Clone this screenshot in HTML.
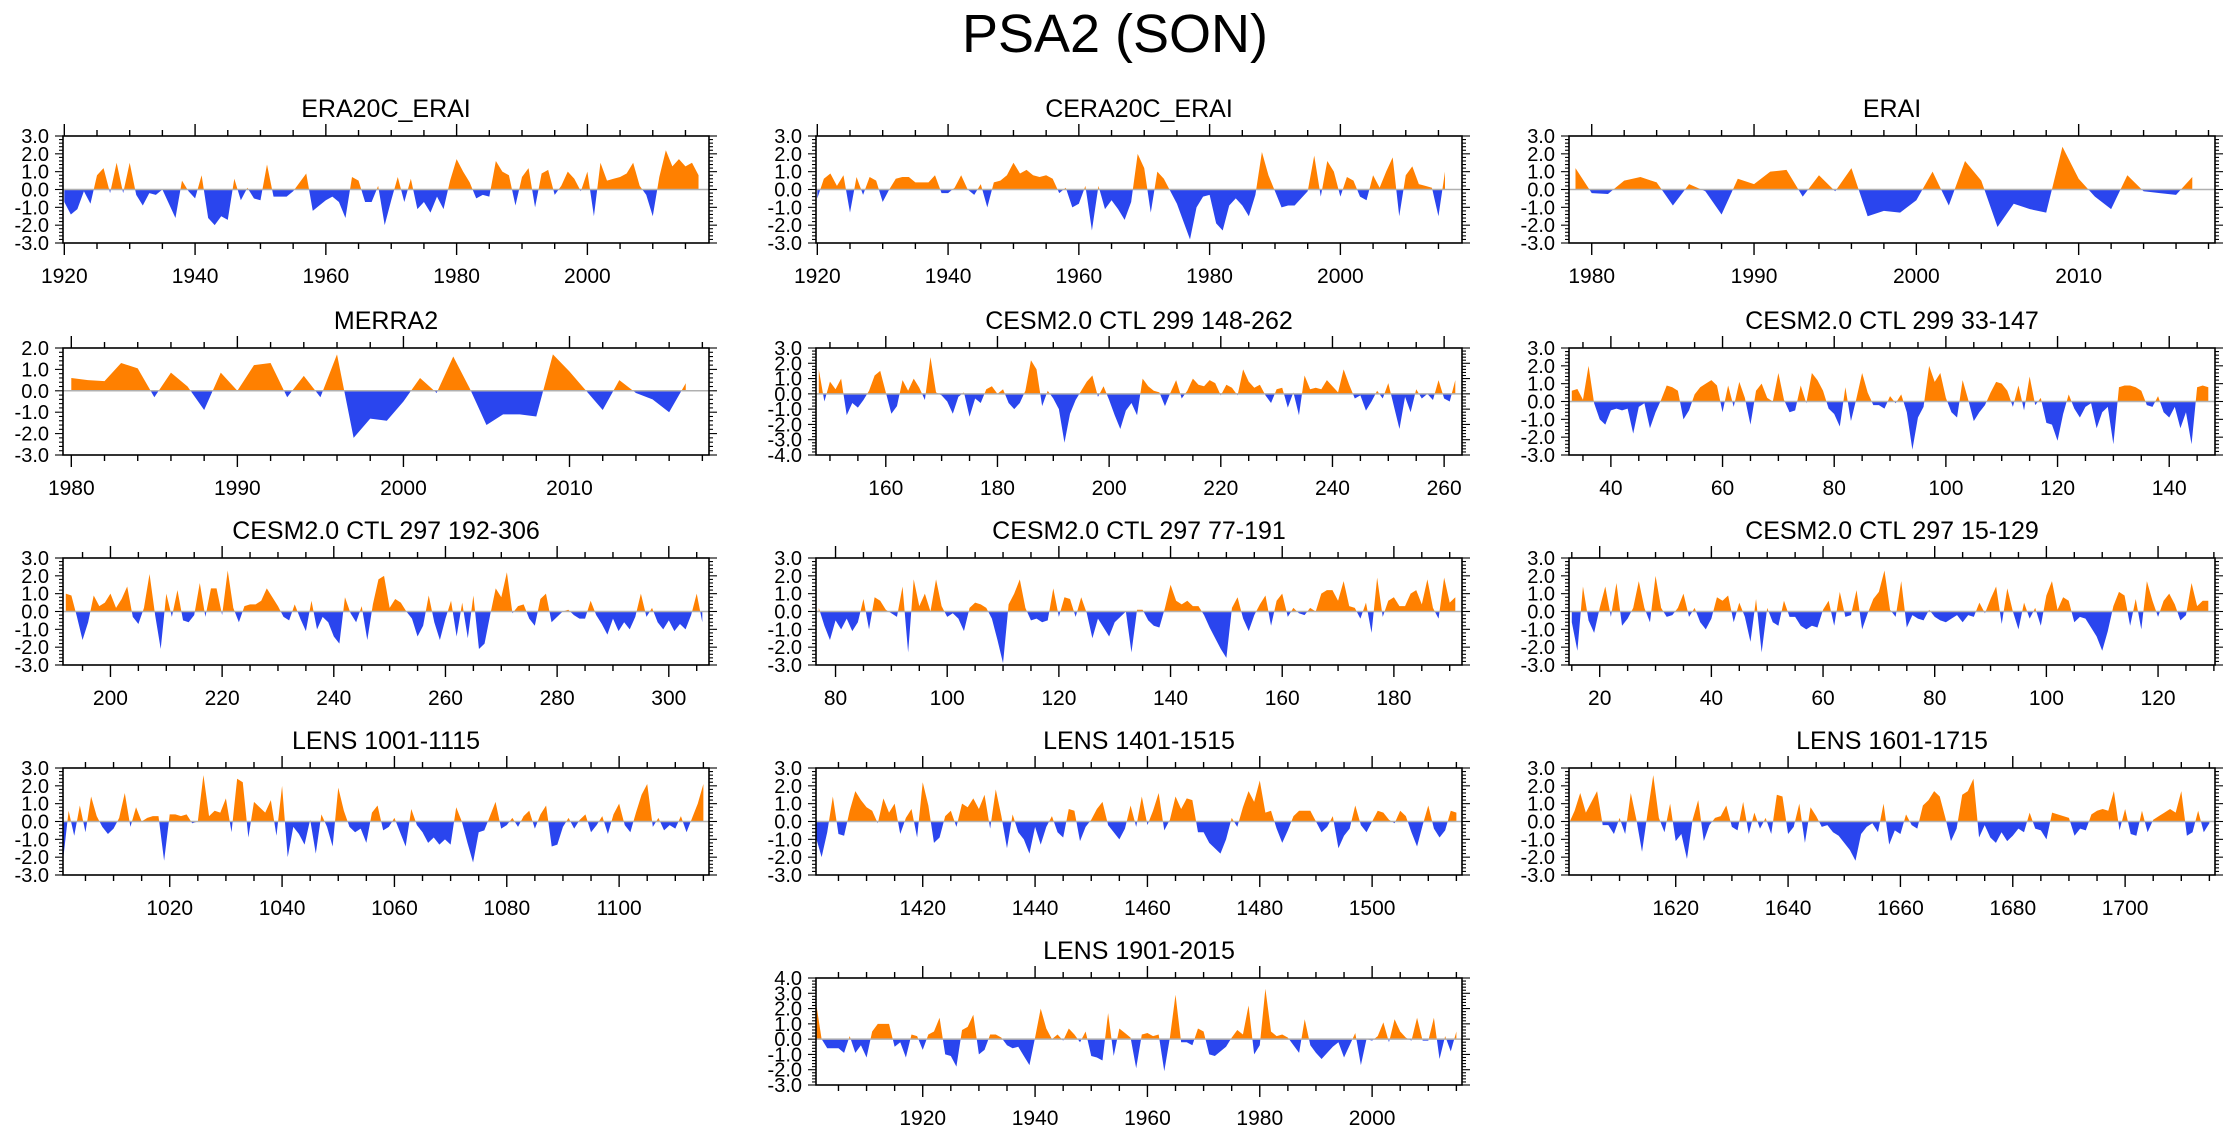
<!DOCTYPE html>
<html><head><meta charset="utf-8"><style>
html,body{margin:0;padding:0;background:#fff;}
svg text{font-family:"Liberation Sans",sans-serif;fill:#000;}
</style></head><body>
<svg id="fig" width="2230" height="1133" viewBox="0 0 2230 1133" xmlns="http://www.w3.org/2000/svg">
<text x="1115" y="52" font-size="54" text-anchor="middle">PSA2 (SON)</text>
</svg>
<script>
const era20cVals=[-0.7,-1.4,-1.1,-0.1,-0.8,0.8,1.2,-0.2,1.5,-0.2,1.5,-0.3,-0.9,-0.2,-0.3,0.0,-0.8,-1.6,0.5,-0.1,-0.5,0.8,-1.6,-2.0,-1.5,-1.7,0.6,-0.6,0.1,-0.5,-0.6,1.4,-0.4,-0.4,-0.4,-0.1,0.4,0.9,-1.2,-0.9,-0.6,-0.4,-0.7,-1.6,0.7,0.5,-0.7,-0.7,0.2,-2.0,-0.6,0.7,-0.7,0.6,-1.1,-0.7,-1.3,-0.4,-1.1,0.5,1.7,1.0,0.4,-0.5,-0.3,-0.4,1.6,1.0,0.8,-0.9,0.7,1.2,-1.0,0.9,1.1,-0.3,0.2,1.0,0.6,-0.1,1.0,-1.5,1.5,0.5,0.6,0.7,0.9,1.5,0.2,-0.3,-1.5,0.7,2.2,1.3,1.7,1.3,1.5,0.8];
const cera20cVals=[-0.5,0.6,0.9,0.2,0.8,-1.3,0.7,-0.3,0.7,0.5,-0.7,0.0,0.6,0.7,0.7,0.4,0.4,0.4,0.8,-0.2,-0.2,0.1,0.8,0.0,-0.3,0.3,-1.0,0.4,0.5,0.8,1.5,0.9,1.1,0.8,0.7,0.8,0.6,-0.2,0.1,-1.0,-0.8,0.2,-2.3,0.2,-1.1,-0.6,-1.1,-1.7,-0.7,2.0,1.2,-1.3,1.0,0.6,-0.1,-0.8,-1.8,-2.8,-1.0,-0.4,-0.3,-1.9,-2.3,-0.9,-0.5,-0.9,-1.5,-0.3,2.1,0.8,-0.1,-1.0,-0.9,-0.9,-0.5,-0.1,1.9,-0.4,1.6,1.0,-0.4,0.7,0.5,-0.4,-0.6,0.8,0.1,1.0,1.8,-1.5,0.8,1.3,0.3,0.2,0.1,-1.5,1.0];
const eraiVals=[1.2,-0.2,-0.25,0.5,0.7,0.4,-0.9,0.3,-0.1,-1.4,0.6,0.3,1.0,1.1,-0.4,0.8,-0.1,1.2,-1.5,-1.2,-1.3,-0.6,1.0,-0.9,1.6,0.5,-2.1,-0.8,-1.1,-1.3,2.4,0.6,-0.4,-1.1,0.8,-0.1,-0.2,-0.3,0.7];
const merra2Vals=[0.6,0.5,0.45,1.3,1.05,-0.3,0.85,0.2,-0.9,0.85,0.0,1.2,1.3,-0.3,0.7,-0.3,1.7,-2.2,-1.3,-1.4,-0.5,0.6,-0.1,1.6,0.1,-1.6,-1.1,-1.1,-1.2,1.7,0.9,0.0,-0.9,0.5,-0.1,-0.4,-1.0,0.35];
const ctl299aVals=[1.6,-0.5,0.8,0.3,1.0,-1.4,-0.6,-0.9,-0.4,0.2,1.2,1.5,0.1,-1.3,-0.8,0.9,0.2,1.0,0.4,-0.4,2.4,0.1,-0.1,-0.5,-1.3,-0.2,0.1,-1.5,-0.3,-0.6,0.3,0.5,0.0,0.3,-0.6,-1.0,-0.6,0.2,2.2,1.6,-0.8,0.2,-0.3,-1.0,-3.2,-1.3,-0.4,0.2,0.8,1.2,-0.2,0.5,-0.4,-1.4,-2.3,-1.1,-0.6,-1.4,1.0,0.5,0.2,0.1,-0.8,0.1,0.9,-0.3,0.2,1.0,0.6,0.5,0.9,0.7,-0.1,0.6,0.4,-0.1,1.6,0.8,0.4,0.6,-0.1,-0.6,0.3,0.4,-0.9,0.1,-1.4,1.2,0.3,0.4,0.3,0.9,0.5,0.1,1.6,0.6,-0.3,-0.1,-1.1,-0.5,0.2,-0.3,0.7,-0.8,-2.3,-0.2,-1.2,0.3,-0.3,0.0,-0.4,0.9,-0.3,-0.5,0.9];
const ctl299bVals=[0.6,0.7,0.1,2.0,-0.1,-1.0,-1.3,-0.5,-0.4,-0.5,-0.4,-1.8,-0.3,-0.1,-1.5,-0.6,0.1,0.9,0.8,0.6,-1.0,-0.5,0.4,0.8,1.0,1.2,0.9,-0.6,0.9,-0.3,1.1,0.2,-1.3,0.6,1.0,0.2,0.0,1.6,0.1,-0.6,-0.5,0.9,-0.1,1.6,1.2,0.6,-0.4,-0.7,-1.4,0.8,-1.1,0.2,1.6,0.5,-0.2,-0.2,-0.4,0.3,-0.1,0.4,-0.6,-2.7,-0.9,-0.3,2.0,1.1,1.6,0.2,-0.6,-0.9,1.2,0.1,-1.1,-0.6,-0.2,0.5,1.1,1.0,0.6,-0.3,0.9,-0.5,1.4,-0.2,0.2,-1.2,-1.3,-2.2,-0.7,0.4,-0.4,-0.9,-0.3,-0.1,-1.5,-0.6,-0.3,-2.4,0.8,0.9,0.9,0.8,0.6,-0.2,-0.3,0.3,-0.6,-0.9,-0.3,-1.5,-0.6,-2.4,0.8,0.9,0.8];
const ctl297aVals=[1.0,0.9,-0.3,-1.6,-0.6,0.9,0.3,0.5,1.0,0.2,0.7,1.4,-0.3,-0.7,0.2,2.1,-0.2,-2.1,1.0,-0.3,1.2,-0.5,-0.6,-0.2,1.6,-0.3,1.3,1.3,-0.2,2.3,0.2,-0.6,0.3,0.4,0.4,0.6,1.3,0.8,0.3,-0.3,-0.5,0.4,-0.4,-1.1,0.6,-1.0,-0.3,-0.6,-1.4,-1.8,0.8,-0.1,-0.6,0.3,-1.6,0.4,1.8,2.0,0.2,0.7,0.5,0.0,-0.4,-1.4,-0.8,0.9,-0.6,-1.6,-0.4,0.6,-1.4,0.5,-1.5,0.9,-2.1,-1.8,-0.2,1.3,0.8,2.2,-0.1,0.3,0.4,-0.4,-0.8,0.7,1.0,-0.6,-0.3,0.0,0.1,-0.2,-0.4,-0.4,0.6,-0.2,-0.7,-1.3,-0.4,-1.1,-0.6,-1.0,-0.3,1.0,-0.3,0.2,-0.6,-1.0,-0.5,-1.1,-0.7,-1.0,-0.2,1.0,-0.6];
const ctl297bVals=[0.2,-0.8,-1.6,-0.5,-1.0,-0.4,-1.1,-0.6,0.7,-1.0,0.8,0.6,0.1,-0.1,-0.3,1.4,-2.3,1.8,0.3,1.0,0.0,1.8,0.3,-0.3,-0.1,-0.4,-1.1,0.2,0.5,0.4,0.2,-0.4,-1.6,-2.9,0.4,1.0,1.8,0.2,-0.5,-0.4,-0.6,-0.5,1.3,-0.3,0.8,0.7,-0.3,0.8,-0.1,-1.5,-0.4,-0.9,-1.4,-0.6,-0.3,0.0,-2.3,0.1,0.1,-0.5,-0.8,-0.9,0.2,1.5,0.6,0.4,0.6,0.3,0.3,-0.2,-0.9,-1.5,-2.1,-2.6,0.2,0.8,-0.4,-1.1,-0.2,0.4,0.9,-0.8,0.6,1.0,-0.3,0.2,-0.1,-0.2,0.2,0.0,1.0,1.2,1.2,0.6,1.7,0.3,0.2,-0.4,0.5,-1.2,1.9,-0.3,0.6,0.8,0.3,0.3,1.0,1.2,0.4,1.8,0.2,-0.4,1.9,0.5,0.8];
const ctl297cVals=[-0.6,-2.2,1.4,-0.5,-1.2,0.2,1.4,-0.3,1.6,-0.8,-0.4,0.2,1.7,0.2,-0.6,2.0,0.2,-0.3,-0.2,0.2,1.0,-0.3,0.2,-0.6,-1.0,-0.4,0.8,0.6,0.9,-0.6,0.5,-0.3,-1.7,0.7,-2.3,0.2,-0.6,-0.8,0.6,-0.3,-0.3,-0.8,-1.0,-0.8,-0.9,0.1,0.6,-0.8,1.1,-0.3,-0.2,1.2,-1.0,-0.1,0.7,1.1,2.3,0.1,-0.3,1.7,-0.9,-0.2,-0.4,-0.5,0.1,-0.3,-0.5,-0.6,-0.4,-0.2,-0.6,-0.2,-0.3,0.5,-0.1,0.7,1.4,-0.7,1.3,0.0,-1.0,0.5,-0.4,0.2,-0.8,0.9,1.7,0.1,0.8,0.6,-0.6,-0.3,-0.4,-0.9,-1.4,-2.2,-1.1,0.3,1.1,0.9,-0.8,0.7,-1.0,1.7,0.6,-0.3,0.6,1.0,0.4,-0.5,-0.2,1.6,0.3,0.6,0.6];
const lens1001Vals=[-2.2,0.6,-0.8,0.9,-0.6,1.4,0.3,-0.3,-0.7,-0.4,0.2,1.6,-0.3,0.8,0.0,0.2,0.3,0.3,-2.2,0.4,0.4,0.3,0.4,-0.1,0.0,2.6,0.3,0.6,0.5,1.3,-0.6,2.4,2.2,-0.9,1.1,0.8,0.5,1.2,-0.8,2.0,-2.0,-0.3,-0.7,-1.3,0.1,-1.8,0.4,-0.3,-1.4,1.9,0.6,-0.3,-0.6,-0.4,-1.2,0.5,0.9,-0.5,-0.3,0.2,-0.6,-1.4,0.7,-0.2,-0.6,-1.2,-0.9,-1.3,-1.0,-1.3,0.8,0.0,-1.2,-2.3,-0.6,-0.5,0.3,1.1,-0.4,-0.2,0.2,-0.3,0.3,0.6,-0.4,0.4,0.9,-1.4,-1.3,-0.3,0.2,-0.4,0.1,0.4,-0.6,-0.2,0.3,-0.7,0.4,1.0,-0.2,-0.6,0.5,1.5,2.1,-0.3,0.2,-0.5,-0.2,-0.4,0.3,-0.6,0.2,1.0,2.1];
const lens1401Vals=[-0.9,-2.0,-0.6,1.4,-0.7,-0.8,0.6,1.7,1.2,0.8,0.6,-0.1,1.3,0.5,1.0,-0.7,0.2,0.7,-0.9,2.2,0.9,-1.2,-0.9,0.3,0.6,-0.3,1.0,0.8,1.3,0.7,1.5,-0.4,1.8,0.3,-1.5,0.4,-0.6,-1.0,-1.8,-0.3,-1.3,-0.3,0.3,-0.6,-0.9,0.7,0.6,-1.1,-0.3,0.1,0.7,1.1,-0.2,-0.6,-1.0,-0.4,0.9,-0.3,1.4,-0.2,0.6,1.6,-0.5,0.1,1.4,0.7,1.3,1.2,-0.6,-0.6,-1.2,-1.5,-1.8,-1.0,0.2,-0.3,0.8,1.7,1.1,2.3,0.5,0.6,-0.4,-1.2,-0.5,0.3,0.6,0.6,0.6,0.0,-0.6,-0.3,0.3,-1.5,-0.8,-0.4,0.9,-0.2,-0.6,0.0,0.6,0.5,0.1,-0.1,0.6,0.3,-0.6,-1.4,-0.2,0.9,-0.4,-0.9,-0.5,0.6,0.5];
const lens1601Vals=[-0.1,0.6,1.6,0.5,1.1,1.7,-0.2,-0.2,-0.7,0.2,-0.7,1.6,0.1,-1.7,0.5,2.6,0.2,-0.6,1.0,-1.1,-0.7,-2.1,0.1,1.2,-1.1,-0.2,0.2,0.3,0.9,-0.3,-0.5,1.1,-0.7,0.5,-0.4,0.2,-0.7,1.5,1.4,-0.7,-0.3,1.0,-1.2,0.8,0.3,-0.3,-0.2,-0.6,-0.8,-1.2,-1.6,-2.2,-0.7,-0.3,-0.1,-0.6,1.0,-1.3,-0.5,-0.7,0.4,-0.2,-0.4,0.9,1.2,1.7,1.4,0.2,-1.1,-0.4,1.5,1.7,2.4,-0.9,-0.2,-0.9,-1.2,-0.6,-1.1,-0.8,-0.4,-0.6,0.5,-0.4,-0.5,-1.0,0.5,0.4,0.3,0.2,-0.8,-0.4,-0.5,0.4,0.6,0.7,0.6,1.7,-0.5,0.7,-0.7,-0.8,0.6,-0.6,0.1,0.3,0.5,0.7,0.5,1.7,-0.8,-0.6,0.6,-0.6,-0.1];
const lens1901Vals=[2.4,0.0,-0.6,-0.6,-0.6,-0.9,0.2,-0.9,-0.4,-1.2,0.5,1.0,1.0,1.0,-0.5,-0.2,-1.2,0.3,0.2,-0.7,0.3,0.5,1.4,-1.0,-1.1,-1.8,0.6,0.8,1.6,-1.0,-0.7,0.3,0.3,0.1,-0.4,-0.6,-0.5,-1.1,-1.7,0.1,2.0,0.7,0.0,0.3,-0.1,0.7,0.3,-0.2,0.5,-1.1,-1.2,-1.4,1.7,-1.1,0.7,0.4,0.1,-1.9,0.3,0.4,0.2,0.3,-2.1,0.1,2.9,-0.2,-0.2,-0.4,0.7,0.5,-1.0,-1.1,-0.8,-0.5,0.1,0.6,0.3,2.2,-1.0,-0.4,3.3,0.5,0.2,0.3,0.1,-0.4,-0.9,1.3,-0.4,-0.9,-1.3,-0.9,-0.5,-0.2,-1.2,-0.4,0.4,-1.7,0.0,-0.1,0.2,1.1,-0.2,1.3,0.5,0.1,-0.1,1.4,-0.1,-0.1,1.4,-1.3,0.2,-0.8,0.5];

const yTicksStd=["-3.0","-2.0","-1.0","0.0","1.0","2.0","3.0"];
const yTicksMerra=["-3.0","-2.0","-1.0","0.0","1.0","2.0"];
const yTicksCtl=["-4.0","-3.0","-2.0","-1.0","0.0","1.0","2.0","3.0"];
const yTicksLens19=["-3.0","-2.0","-1.0","0.0","1.0","2.0","3.0","4.0"];

const NS="http://www.w3.org/2000/svg";
const svg=document.getElementById('fig');
const COLX=[63,816,1569], ROWY=[136,348,558,768,978], W=646, H=107;
function mk(tag,attrs,parent){const e=document.createElementNS(NS,tag);for(const k in attrs)e.setAttribute(k,attrs[k]);(parent||svg).appendChild(e);return e;}

const panels=[
 {name:"era20c-erai",title:"ERA20C_ERAI",vals:era20cVals,first:1920,xmin:1919.8,xmax:2018.6,maj:20,min:5,yt:yTicksStd,c:0,r:0},
 {name:"cera20c-erai",title:"CERA20C_ERAI",vals:cera20cVals,first:1920,xmin:1919.8,xmax:2018.6,maj:20,min:5,yt:yTicksStd,c:1,r:0},
 {name:"erai",title:"ERAI",vals:eraiVals,first:1979,xmin:1978.6,xmax:2018.4,maj:10,min:2,yt:yTicksStd,c:2,r:0},
 {name:"merra2",title:"MERRA2",vals:merra2Vals,first:1980,xmin:1979.5,xmax:2018.4,maj:10,min:2,yt:yTicksMerra,c:0,r:1},
 {name:"cesm-299-148-262",title:"CESM2.0 CTL 299 148-262",vals:ctl299aVals,first:148,xmin:147.5,xmax:263.2,maj:20,min:5,yt:yTicksCtl,c:1,r:1},
 {name:"cesm-299-33-147",title:"CESM2.0 CTL 299 33-147",vals:ctl299bVals,first:33,xmin:32.5,xmax:148.2,maj:20,min:5,yt:yTicksStd,c:2,r:1},
 {name:"cesm-297-192-306",title:"CESM2.0 CTL 297 192-306",vals:ctl297aVals,first:192,xmin:191.5,xmax:307.2,maj:20,min:5,yt:yTicksStd,c:0,r:2},
 {name:"cesm-297-77-191",title:"CESM2.0 CTL 297 77-191",vals:ctl297bVals,first:77,xmin:76.5,xmax:192.2,maj:20,min:5,yt:yTicksStd,c:1,r:2},
 {name:"cesm-297-15-129",title:"CESM2.0 CTL 297 15-129",vals:ctl297cVals,first:15,xmin:14.5,xmax:130.2,maj:20,min:5,yt:yTicksStd,c:2,r:2},
 {name:"lens-1001-1115",title:"LENS 1001-1115",vals:lens1001Vals,first:1001,xmin:1001,xmax:1116,maj:20,min:5,yt:yTicksStd,c:0,r:3},
 {name:"lens-1401-1515",title:"LENS 1401-1515",vals:lens1401Vals,first:1401,xmin:1401,xmax:1516,maj:20,min:5,yt:yTicksStd,c:1,r:3},
 {name:"lens-1601-1715",title:"LENS 1601-1715",vals:lens1601Vals,first:1601,xmin:1601,xmax:1716,maj:20,min:5,yt:yTicksStd,c:2,r:3},
 {name:"lens-1901-2015",title:"LENS 1901-2015",vals:lens1901Vals,first:1901,xmin:1901,xmax:2016,maj:20,min:5,yt:yTicksLens19,c:1,r:4}
];

panels.forEach((p,pi)=>{
  const x0=COLX[p.c], y0=ROWY[p.r];
  const ymin=parseFloat(p.yt[0]), ymax=parseFloat(p.yt[p.yt.length-1]);
  const sx=v=>x0+(v-p.xmin)/(p.xmax-p.xmin)*W;
  const sy=v=>y0+H-(v-ymin)/(ymax-ymin)*H;
  const g=mk('g',{});
  
  
  const t=mk('text',{x:x0+W/2,y:y0-19,'font-size':25,'text-anchor':'middle'},g);
  t.textContent=p.title;
  
  
  const y0v=sy(0);
  let d='M'+sx(p.first)+','+y0v;
  p.vals.forEach((v,i)=>{d+=' L'+sx(p.first+i).toFixed(2)+','+sy(v).toFixed(2);});
  d+=' L'+sx(p.first+p.vals.length-1)+','+y0v+' Z';
  const cpA=mk('clipPath',{id:'ca'+pi},g); mk('rect',{x:x0,y:y0,width:W,height:y0v-y0},cpA);
  const cpB=mk('clipPath',{id:'cb'+pi},g); mk('rect',{x:x0,y:y0v,width:W,height:y0+H-y0v},cpB);
  const pos=mk('path',{d:d,fill:'#ff8000','clip-path':'url(#ca'+pi+')'},g);
  
  
  const neg=mk('path',{d:d,fill:'#2a45ee','clip-path':'url(#cb'+pi+')'},g);
  
  
  const zl=mk('line',{x1:x0,x2:x0+W,y1:y0v,y2:y0v,stroke:'#b0b0b0','stroke-width':1.5},g);
  
  
  const bx=mk('rect',{x:x0,y:y0,width:W,height:H,fill:'none',stroke:'#000','stroke-width':1.6},g);
  
  
  const start=Math.ceil(p.xmin/p.min)*p.min;
  for(let v=start;v<=p.xmax;v+=p.min){
    const X=sx(v), major=(v%p.maj===0), L=major?12:6;
    mk('line',{x1:X,x2:X,y1:y0+H,y2:y0+H+L,stroke:'#000','stroke-width':1.4},g);
    mk('line',{x1:X,x2:X,y1:y0,y2:y0-L,stroke:'#000','stroke-width':1.4},g);
    if(major){
      const lt=mk('text',{x:X,y:y0+H+40,'font-size':21,'text-anchor':'middle'},g);
      lt.textContent=String(v);
      
      
    }
  }
  for(let k=0;k<=Math.round((ymax-ymin)/0.2);k++){
    const v=ymin+k*0.2, Y=sy(v), major=(k%5===0), L=major?8:4;
    mk('line',{x1:x0,x2:x0-L,y1:Y,y2:Y,stroke:'#000','stroke-width':1.1},g);
    mk('line',{x1:x0+W,x2:x0+W+L,y1:Y,y2:Y,stroke:'#000','stroke-width':1.1},g);
  }
  p.yt.forEach(s=>{
    const Y=sy(parseFloat(s));
    const lt=mk('text',{x:x0-14,y:Y+7,'font-size':20,'text-anchor':'end'},g);
    lt.textContent=s;
    
    
  });
});
</script>
</body></html>
